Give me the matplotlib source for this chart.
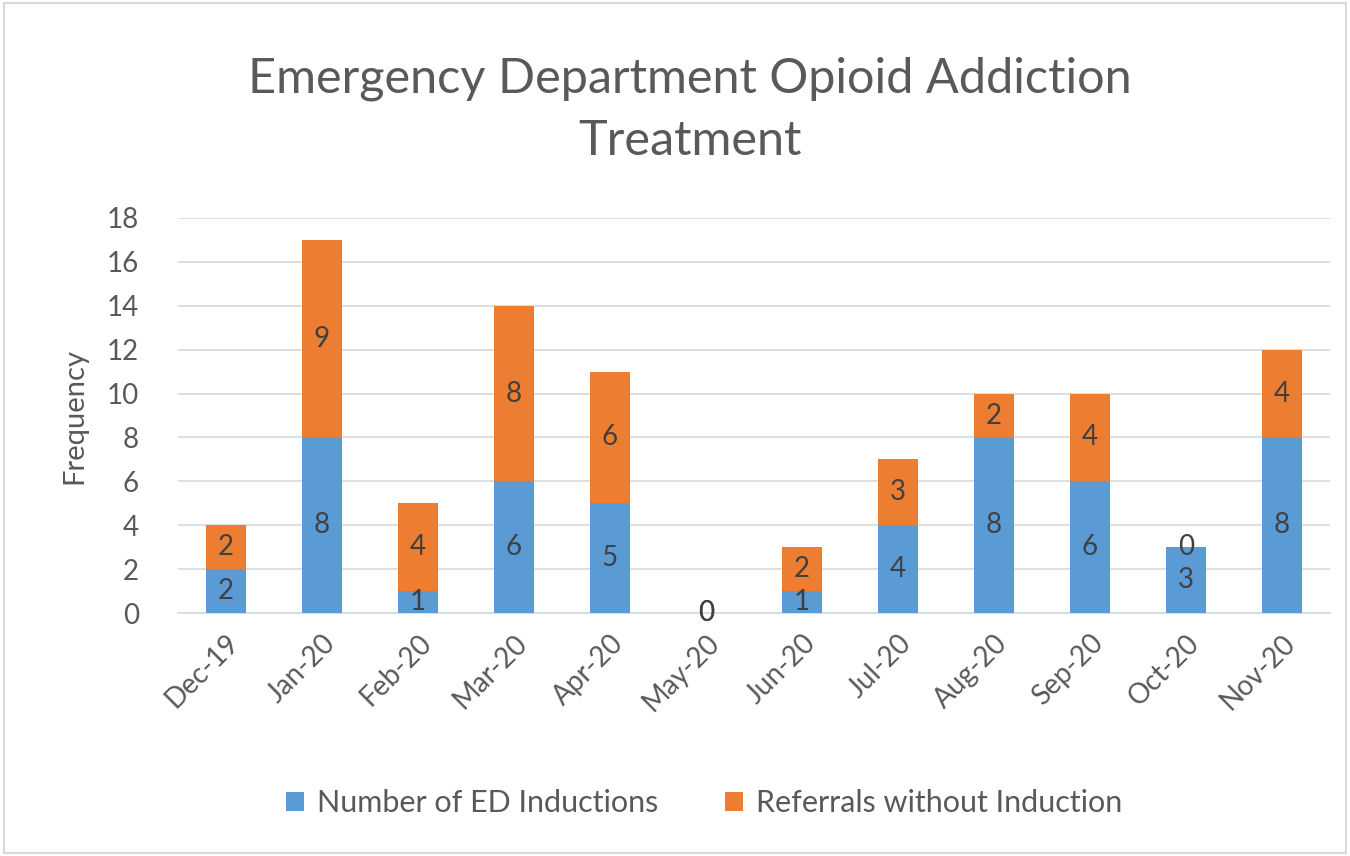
import matplotlib.pyplot as plt
import numpy as np

plt.rcParams['font.family'] = ['Lato', 'DejaVu Sans']

months = ['Dec-19', 'Jan-20', 'Feb-20', 'Mar-20', 'Apr-20', 'May-20',
          'Jun-20', 'Jul-20', 'Aug-20', 'Sep-20', 'Oct-20', 'Nov-20']
inductions = [2, 8, 1, 6, 5, 0, 1, 4, 8, 6, 3, 8]
referrals = [2, 9, 4, 8, 6, 0, 2, 3, 2, 4, 0, 4]

blue = '#5b9bd5'
orange = '#ed7d31'
text_c = '#595959'
label_c = '#404040'

fig = plt.figure(figsize=(13.5, 8.56), dpi=100)
ax = fig.add_axes([178 / 1350, 1 - 613 / 856, (1330 - 178) / 1350, (613 - 218) / 856])

x = np.arange(len(months))
w = 0.42
b1 = ax.bar(x, inductions, w, color=blue, label='Number of ED Inductions', zorder=3)
b2 = ax.bar(x, referrals, w, bottom=inductions, color=orange,
            label='Referrals without Induction', zorder=3)

ax.bar_label(b1, label_type='center', fontsize=20, color=label_c)
ax.bar_label(b2, label_type='center', fontsize=20, color=label_c)

ax.set_xlim(-0.5, len(months) - 0.5)
ax.set_ylim(0, 18)
ax.set_yticks(range(0, 19, 2))
ax.grid(axis='y', color='#d9d9d9', lw=1.2, zorder=0)
for s in ['top', 'right', 'left']:
    ax.spines[s].set_visible(False)
ax.spines['bottom'].set_color('#d9d9d9')
ax.spines['bottom'].set_linewidth(1.2)
ax.tick_params(length=0, labelsize=20, colors=text_c)
ax.tick_params(axis='y', pad=28)
ax.tick_params(axis='x', pad=12)
ax.set_xticks(x)
ax.set_xticklabels(months, rotation=45, ha='right', rotation_mode='anchor')
ax.set_ylabel('Frequency', fontsize=21, color=text_c, labelpad=14)

fig.text(690 / 1350, 1 - 110 / 856, 'Emergency Department Opioid Addiction\nTreatment',
         ha='center', va='center', fontsize=35, color=text_c, linespacing=1.5)

fig.legend(loc='center', bbox_to_anchor=(704 / 1350, 1 - 803 / 856), ncol=2,
           frameon=False, fontsize=22, labelcolor=text_c, handlelength=0.6,
           handleheight=0.6, columnspacing=2.2, handletextpad=0.4)

fig.add_artist(plt.Rectangle((0.003, 0.003), 0.994, 0.994, transform=fig.transFigure,
                             fill=False, edgecolor='#d9d9d9', lw=1.5))

fig.savefig('out.png', dpi=100)
